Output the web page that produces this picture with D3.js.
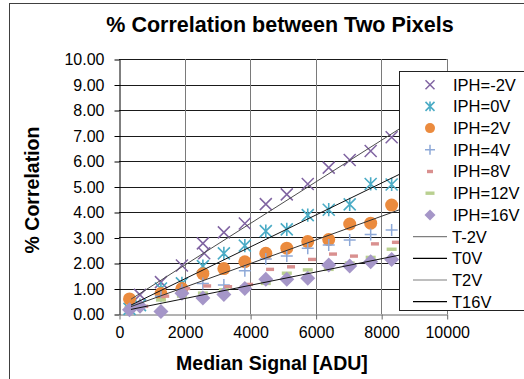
<!DOCTYPE html>
<html>
<head>
<meta charset="utf-8">
<script src="https://cdn.jsdelivr.net/npm/d3@7"></script>
<style>
  body { margin: 0; background: #fff; }
  svg { font-family: "Liberation Sans", Arial, sans-serif; }
</style>
</head>
<body>
<div id="chart"></div>
<script>
// data
var signal = [320, 640, 1280, 1920, 2560, 3200, 3840, 4480, 5120, 5760, 6400, 7040, 7680, 8320];
var signal8V = [450, 770, 1410, 2050, 2690, 3330, 3970, 4610, 5250, 5890, 6530, 7170, 7810, 8450];

var iphM2 = [null, 0.75, 1.25, 1.9, 2.77, 3.2, 3.55, 4.31, 4.69, 5.1, 5.74, 6.04, 6.39, 6.93];
var iphM2Extra = [[2600, 2.38]];
var iph0 = [0.2, 0.35, 1.0, 1.2, 1.88, 2.38, 2.68, 3.25, 3.32, 3.88, 4.09, 4.3, 5.1, 5.08];
var iph2 = [0.59, null, 0.8, 1.0, 1.58, 1.78, 2.05, 2.38, 2.58, 2.84, 2.92, 3.53, 3.56, 4.27];
var iph4 = [null, 0.3, 0.7, 0.95, 1.2, 1.14, 1.7, 2.16, 2.27, 2.58, 2.71, 2.9, 3.12, 3.29];
var iph8 = [null, 0.3, 0.7, 1.0, 1.1, 1.07, 1.16, 1.75, 1.85, 2.14, 2.35, 2.27, 2.75, 2.81];
var iph12 = [0.25, 0.3, 0.55, 0.7, 0.82, 0.95, 1.07, 1.2, 1.6, 1.73, 1.75, 2.0, 2.22, 2.54];
var iph16 = [0.17, 0.3, 0.1, 0.81, 0.63, 0.76, 1.0, 1.36, 1.36, 1.4, 1.92, 1.88, 2.05, 2.14];

// trend lines: [start, end]
var trendM2 = [[366, 0.58], [9600, 8.11]];
var trend0 = [[366, 0.35], [9600, 6.13]];
var trend2 = [[366, 0.29], [9600, 4.57]];
var trend16 = [[366, 0.18], [9600, 2.58]];

var xTicks = [0, 2000, 4000, 6000, 8000, 10000];
var yTicks = [0, 1, 2, 3, 4, 5, 6, 7, 8, 9, 10];

var W = 524, H = 379;
var plot = { left: 119, right: 446.7, top: 59, bottom: 314 };

var svg = d3.select("#chart").append("svg")
    .attr("width", W)
    .attr("height", H);

// outer frame
svg.append("rect")
   .attr("x", 9.5).attr("y", 3.5)
   .attr("width", 540).attr("height", 420)
   .attr("fill", "#fff")
   .attr("stroke", "#404040");

var xScale = d3.scaleLinear().domain([0, 10000]).range([plot.left, plot.right]);
var yScale = d3.scaleLinear().domain([0, 10]).range([plot.bottom, plot.top]);

// gridlines
svg.append("g").selectAll("line")
   .data(yTicks.slice(1))
   .join("line")
   .attr("x1", plot.left).attr("x2", plot.right)
   .attr("y1", function(d) { return Math.round(yScale(d)) + 0.5; })
   .attr("y2", function(d) { return Math.round(yScale(d)) + 0.5; })
   .attr("stroke", "#1a1a1a");

svg.append("g").selectAll("line")
   .data(xTicks.slice(1))
   .join("line")
   .attr("x1", function(d) { return Math.round(xScale(d)) + 0.5; })
   .attr("x2", function(d) { return Math.round(xScale(d)) + 0.5; })
   .attr("y1", plot.top).attr("y2", plot.bottom)
   .attr("stroke", "#7a7a7a");

// axes
var yAxis = svg.append("g")
    .attr("transform", "translate(" + (plot.left + 0.5) + ",0.5)")
    .call(d3.axisLeft(yScale).tickValues(yTicks).tickFormat(d3.format(".2f"))
        .tickSizeInner(5).tickSizeOuter(0).tickPadding(10));
yAxis.select(".domain").attr("stroke", "#000");
yAxis.selectAll("text").attr("font-size", 16).attr("fill", "#000")
     .attr("font-family", "Liberation Sans, Arial, sans-serif");

var xAxis = svg.append("g")
    .attr("transform", "translate(0.5," + (plot.bottom + 0.5) + ")")
    .call(d3.axisBottom(xScale).tickValues(xTicks).tickFormat(d3.format("d"))
        .tickSizeInner(5).tickSizeOuter(0).tickPadding(7));
xAxis.select(".domain").attr("stroke", "#666");
xAxis.selectAll("line").attr("stroke", "#666");
xAxis.selectAll("text").attr("font-size", 16).attr("fill", "#000")
     .attr("font-family", "Liberation Sans, Arial, sans-serif");

// marker shapes
function markerX(g, s, color) {
    var h = s / 2;
    g.append("path").attr("d", "M" + (-h) + "," + (-h) + "L" + h + "," + h + "M" + (-h) + "," + h + "L" + h + "," + (-h))
     .attr("stroke", color).attr("stroke-width", 1.5).attr("fill", "none");
}
function markerStar(g, s, color) {
    var h = s / 2;
    g.append("path").attr("d", "M" + (-h) + "," + (-h) + "L" + h + "," + h + "M" + (-h) + "," + h + "L" + h + "," + (-h) + "M0," + (-h * 1.1) + "L0," + (h * 1.1))
     .attr("stroke", color).attr("stroke-width", 1.6).attr("fill", "none");
}
function markerCircle(g, s, color) {
    g.append("circle").attr("r", s / 2).attr("fill", color);
}
function markerPlus(g, s, color) {
    var h = s / 2;
    g.append("path").attr("d", "M" + (-h) + ",0L" + h + ",0M0," + (-h) + "L0," + h)
     .attr("stroke", color).attr("stroke-width", 1.5).attr("fill", "none");
}
function markerDash(g, s, color) {
    g.append("rect").attr("x", -s / 2).attr("y", -1.7).attr("width", s).attr("height", 3.4).attr("fill", color);
}
function markerDiamond(g, s, color) {
    var h = s / 2;
    g.append("path").attr("d", "M0," + (-h) + "L" + h + ",0L0," + h + "L" + (-h) + ",0Z").attr("fill", color);
}

var series = [
    { name: "IPH=-2V", xs: signal, ys: iphM2, draw: markerX, size: 12, legendSize: 9, color: "#8064A2" },
    { name: "IPH=0V", xs: signal, ys: iph0, draw: markerStar, size: 12, legendSize: 9, color: "#4BACC6" },
    { name: "IPH=2V", xs: signal, ys: iph2, draw: markerCircle, size: 13, legendSize: 10, color: "#EB8B3E" },
    { name: "IPH=4V", xs: signal, ys: iph4, draw: markerPlus, size: 12, legendSize: 10, color: "#8EA9D8" },
    { name: "IPH=8V", xs: signal8V, ys: iph8, draw: markerDash, size: 8, legendSize: 6, color: "#D9908F" },
    { name: "IPH=12V", xs: signal, ys: iph12, draw: markerDash, size: 10, legendSize: 9, color: "#B9D090" },
    { name: "IPH=16V", xs: signal, ys: iph16, draw: markerDiamond, size: 15, legendSize: 11, color: "#A596C8" }
];

var trends = [
    { name: "T-2V", pts: trendM2, color: "#4d4d4d", legendColor: "#7f7f7f" },
    { name: "T0V", pts: trend0, color: "#111", legendColor: "#000" },
    { name: "T2V", pts: trend2, color: "#333", legendColor: "#7f7f7f" },
    { name: "T16V", pts: trend16, color: "#111", legendColor: "#000" }
];

var marks = svg.append("g");
series.forEach(function(s) {
    var pts = [];
    s.ys.forEach(function(v, i) { if (v !== null) pts.push([s.xs[i], v]); });
    if (s.name === "IPH=-2V") pts = pts.concat(iphM2Extra);
    pts.forEach(function(p) {
        var g = marks.append("g")
            .attr("transform", "translate(" + xScale(p[0]) + "," + yScale(p[1]) + ")");
        s.draw(g, s.size, s.color);
    });
});

var line = d3.line()
    .x(function(d) { return xScale(d[0]); })
    .y(function(d) { return yScale(d[1]); });

trends.forEach(function(t) {
    svg.append("path")
       .attr("d", line(t.pts))
       .attr("stroke", t.color)
       .attr("stroke-width", 1)
       .attr("fill", "none");
});

// legend
var legend = svg.append("g");
legend.append("rect")
      .attr("x", 399.5).attr("y", 71.5)
      .attr("width", 140).attr("height", 239)
      .attr("fill", "#fff")
      .attr("stroke", "#222");

var rowY = function(i) { return 84.7 + i * 21.7; };

series.forEach(function(s, i) {
    var g = legend.append("g").attr("transform", "translate(430," + rowY(i) + ")");
    s.draw(g, s.legendSize, s.color);
    legend.append("text")
          .attr("x", 453).attr("y", rowY(i))
          .attr("dy", "0.36em")
          .attr("font-size", 16.5)
          .text(s.name);
});

trends.forEach(function(t, j) {
    var i = j + series.length;
    legend.append("line")
          .attr("x1", 413).attr("x2", 447)
          .attr("y1", rowY(i)).attr("y2", rowY(i))
          .attr("stroke", t.legendColor)
          .attr("stroke-width", 1.2);
    legend.append("text")
          .attr("x", 452).attr("y", rowY(i))
          .attr("dy", "0.36em")
          .attr("font-size", 16.5)
          .text(t.name);
});

// titles
svg.append("text")
   .attr("x", 280).attr("y", 32)
   .attr("text-anchor", "middle")
   .attr("font-size", 21.5)
   .attr("font-weight", "bold")
   .text("% Correlation between Two Pixels");

svg.append("text")
   .attr("x", 272).attr("y", 370)
   .attr("text-anchor", "middle")
   .attr("font-size", 19.5)
   .attr("font-weight", "bold")
   .text("Median Signal [ADU]");

svg.append("text")
   .attr("transform", "translate(39,190) rotate(-90)")
   .attr("text-anchor", "middle")
   .attr("font-size", 19.5)
   .attr("font-weight", "bold")
   .text("% Correlation");
</script>
</body>
</html>
